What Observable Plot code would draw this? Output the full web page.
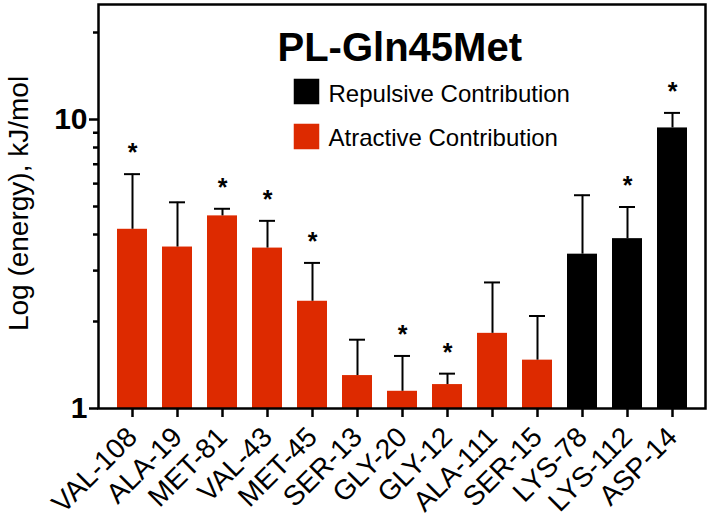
<!DOCTYPE html>
<html>
<head>
<meta charset="utf-8">
<script src="https://cdn.jsdelivr.net/npm/d3@7"></script>
<script src="https://cdn.jsdelivr.net/npm/@observablehq/plot@0.6"></script>
<style>
  html, body { margin: 0; padding: 0; background: #fff; }
</style>
</head>
<body>
<div id="chart"></div>
<script>
// ---- data ----
const residues = ["VAL-108","ALA-19","MET-81","VAL-43","MET-45","SER-13","GLY-20","GLY-12","ALA-111","SER-15","LYS-78","LYS-112","ASP-14"];
const energies = [4.17, 3.62, 4.64, 3.59, 2.35, 1.30, 1.147, 1.21, 1.82, 1.47, 3.42, 3.87, 9.35];
const errorTops = [6.47, 5.17, 4.91, 4.46, 3.19, 1.73, 1.52, 1.32, 2.73, 2.09, 5.47, 4.98, 10.54];
const contributions = ["Atractive","Atractive","Atractive","Atractive","Atractive","Atractive","Atractive","Atractive","Atractive","Atractive","Repulsive","Repulsive","Repulsive"];
const significant = [true, false, true, true, true, false, true, true, false, false, false, true, true];
const majorTicks = [1, 10];
const minorTicks = [2, 3, 4, 5, 6, 7, 8, 9, 20];
const legendLabels = ["Repulsive Contribution", "Atractive Contribution"];
const title = "PL-Gln45Met";
const yLabel = "Log (energy), kJ/mol";

const RED = "#dd2a00";
const colorOf = {Atractive: RED, Repulsive: "#000000"};

const data = residues.map((r, i) => ({
  residue: r, energy: energies[i], upper: errorTops[i],
  contribution: contributions[i], sig: significant[i]
}));

const FONT = "'Liberation Sans', Arial, Helvetica, sans-serif";

const chart = Plot.plot({
  width: 709,
  height: 522,
  marginLeft: 98,
  marginTop: 4,
  marginRight: 4,
  marginBottom: 114,
  style: {fontFamily: FONT, background: "white", color: "black"},
  x: {domain: residues, padding: 0.34, axis: null},
  y: {type: "log", domain: [1, 25], axis: null},
  marks: [
    Plot.barY(data, {x: "residue", y1: 1, y2: "energy", fill: d => colorOf[d.contribution]}),
    Plot.ruleX(data, {x: "residue", y1: "energy", y2: "upper", stroke: "black", strokeWidth: 2}),
    Plot.tickY(data, {x: "residue", y: "upper", stroke: "black", strokeWidth: 2, insetLeft: 7, insetRight: 7}),
    Plot.text(data.filter(d => d.sig), {x: "residue", y: "upper", text: () => "*", dy: -13, lineAnchor: "bottom", fontSize: 25, fontWeight: "bold", fill: "black"}),
    Plot.axisY({ticks: majorTicks, tickFormat: d => String(d), tickSize: 9, tickPadding: 2, fontSize: 30, fontWeight: "bold", strokeWidth: 2.5, label: null}),
    Plot.axisY({ticks: minorTicks, tickSize: 5, text: null, strokeWidth: 2.5, label: null}),
    Plot.axisX({tickRotate: -45, tickSize: 9, tickPadding: 15, fontSize: 28, strokeWidth: 2.5, label: null}),
    Plot.frame({stroke: "black", strokeWidth: 2.5}),
    // y label
    Plot.text([yLabel], {frameAnchor: "left", text: d => d, rotate: -90, textAnchor: "middle", lineAnchor: "bottom", dx: -71, dy: -3, fontSize: 28, fill: "black"}),
    // title
    Plot.text([title], {frameAnchor: "top-left", text: d => d, textAnchor: "start", lineAnchor: "bottom", dx: 179, dy: 56, fontSize: 40, fontWeight: "bold", fill: "black"}),
    // legend
    Plot.dot([legendLabels[0]], {frameAnchor: "top-left", symbol: "square", r: 14.4, fill: "black", dx: 208, dy: 87}),
    Plot.dot([legendLabels[1]], {frameAnchor: "top-left", symbol: "square", r: 14.4, fill: RED, dx: 208, dy: 132}),
    Plot.text([legendLabels[0]], {frameAnchor: "top-left", text: d => d, textAnchor: "start", lineAnchor: "bottom", dx: 230, dy: 97, fontSize: 24, fill: "black"}),
    Plot.text([legendLabels[1]], {frameAnchor: "top-left", text: d => d, textAnchor: "start", lineAnchor: "bottom", dx: 230, dy: 141, fontSize: 24, fill: "black"})
  ]
});

document.getElementById("chart").appendChild(chart);
</script>
</body>
</html>
